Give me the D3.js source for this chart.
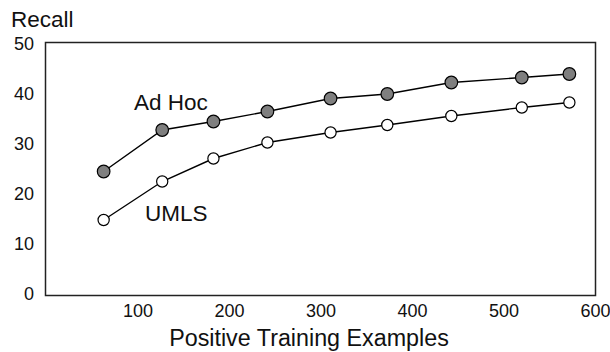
<!DOCTYPE html>
<html>
<head>
<meta charset="utf-8">
<script src="https://cdn.jsdelivr.net/npm/d3@7"></script>
<style>
  body { margin: 0; background: #fff; }
  svg { display: block; font-family: "Liberation Sans", Arial, Helvetica, sans-serif; }
</style>
</head>
<body>
<svg id="svg" width="610" height="352"></svg>
<script>
// data
var examples = [63, 127, 183, 242, 311, 373, 443, 520, 572];
var adHoc = [24.5, 32.8, 34.5, 36.5, 39.1, 40.0, 42.3, 43.3, 44.0];
var umls = [14.8, 22.5, 27.1, 30.3, 32.3, 33.8, 35.6, 37.3, 38.3];
var xTicks = [100, 200, 300, 400, 500, 600];
var yTicks = [0, 10, 20, 30, 40, 50];

var svg = d3.select('#svg');

var x = d3.scaleLinear().domain([0, 600]).range([46, 595]);
var y = d3.scaleLinear().domain([0, 50]).range([294, 44]);

// frame
svg.append('rect')
  .attr('x', 45.5)
  .attr('y', y(50) - 1.5)
  .attr('width', 550)
  .attr('height', y(0) - y(50) + 3)
  .style('fill', 'none')
  .style('stroke', '#222')
  .style('stroke-width', 1.5);

// y axis labels
var yAxis = svg.append('g')
  .attr('transform', 'translate(40,0)')
  .call(d3.axisLeft(y).tickValues(yTicks).tickSize(0).tickPadding(6));
yAxis.select('.domain').remove();
yAxis.selectAll('text').style('font-size', '18px').style('fill', '#111')
  .attr('font-family', null);

// x axis labels (no tick marks)
var xAxis = svg.append('g')
  .attr('transform', 'translate(0,304)')
  .call(d3.axisBottom(x).tickValues(xTicks).tickSize(0).tickPadding(0));
xAxis.select('.domain').remove();
xAxis.selectAll('text').style('font-size', '18px').style('fill', '#111')
  .attr('font-family', null);

// axis titles
svg.append('text')
  .attr('x', 11).attr('y', 27)
  .style('font-size', '22.5px').style('fill', '#111')
  .text('Recall');

svg.append('text')
  .attr('x', 309).attr('y', 346)
  .attr('text-anchor', 'middle')
  .style('font-size', '23.3px').style('fill', '#111')
  .text('Positive Training Examples');

var line = d3.line()
  .x(function(d, i) { return x(examples[i]); })
  .y(function(d) { return y(d); });

function drawSeries(values, fill, r) {
  svg.append('path')
    .datum(values)
    .attr('d', line)
    .style('fill', 'none')
    .style('stroke', '#000')
    .style('stroke-width', 1.4);

  svg.append('g').selectAll('circle')
    .data(values)
    .enter()
    .append('circle')
    .attr('cx', function(d, i) { return x(examples[i]); })
    .attr('cy', function(d) { return y(d); })
    .attr('r', r)
    .style('fill', fill)
    .style('stroke', '#000')
    .style('stroke-width', 1.2);
}

drawSeries(adHoc, '#7f7f7f', 6.3);
drawSeries(umls, '#fff', 5.6);

// series labels
svg.append('text')
  .attr('x', 134).attr('y', 110)
  .style('font-size', '22.5px').style('fill', '#111')
  .text('Ad Hoc');

svg.append('text')
  .attr('x', 145).attr('y', 221)
  .style('font-size', '22.5px').style('fill', '#111')
  .text('UMLS');
</script>
</body>
</html>
